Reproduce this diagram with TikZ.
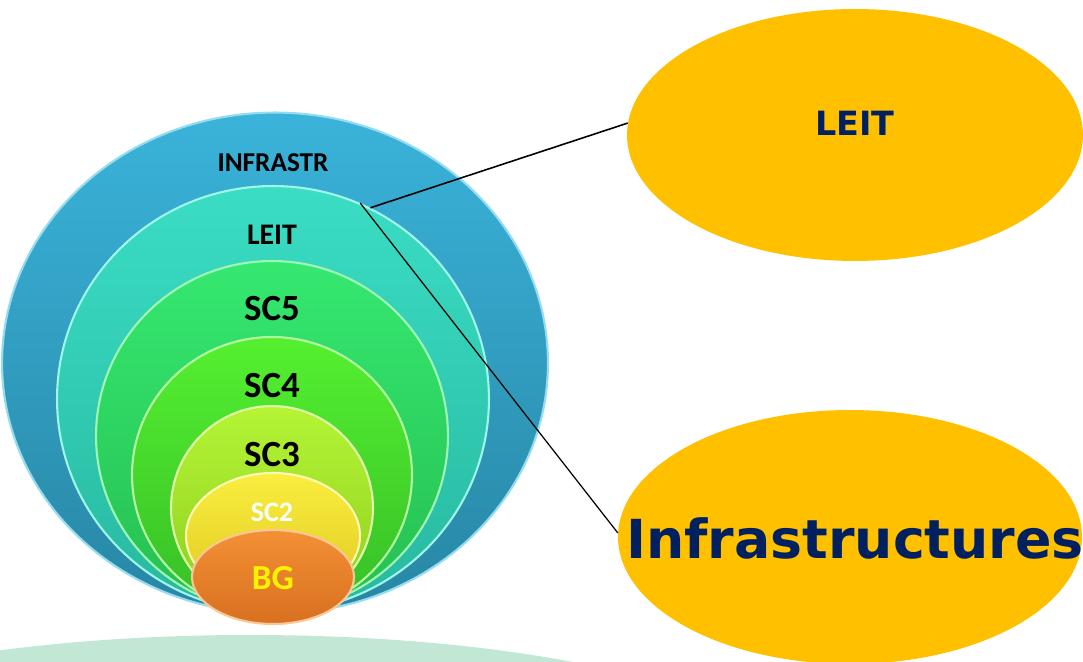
\documentclass[tikz,border=0pt]{standalone}
\usepackage{fontspec}
\setmainfont{Carlito}
\newfontfamily\verd{DejaVu Sans}
\usetikzlibrary{shapes.geometric}

\definecolor{navy}{HTML}{002060}
\definecolor{gold}{HTML}{FFC000}
\definecolor{mint}{HTML}{C2E8D5}

\begin{document}
\begin{tikzpicture}
[x=0.02cm,y=-0.02cm,
 ring/.style={ellipse,inner sep=0pt,line width=1.2pt},
 lab/.style={font=\bfseries,text=black},
 bigoval/.style={ellipse,fill=gold,inner sep=0pt,minimum width=9.12cm,minimum height=5.04cm}]
\clip (0,0) rectangle (1083,662);
\fill[mint] (250,760) ellipse [x radius=520,y radius=125];
% nested rings
\node[ring,draw={rgb,255:red,150;green,220;blue,240},top color={rgb,255:red,58;green,179;blue,218},
      bottom color={rgb,255:red,40;green,134;blue,164},
      minimum width=10.92cm,minimum height=10.02cm] (infr) at (275,363) {};
\node[ring,draw={rgb,255:red,160;green,245;blue,230},top color={rgb,255:red,58;green,221;blue,196},
      bottom color={rgb,255:red,40;green,184;blue,160},
      minimum width=8.64cm,minimum height=8.52cm] (leit) at (273,399) {};
\node[ring,draw={rgb,255:red,160;green,245;blue,180},top color={rgb,255:red,53;green,232;blue,112},
      bottom color={rgb,255:red,38;green,190;blue,80},
      minimum width=7.04cm,minimum height=7.0cm] (scv) at (272,436) {};
\node[ring,draw={rgb,255:red,180;green,250;blue,160},top color={rgb,255:red,85;green,240;blue,48},
      bottom color={rgb,255:red,54;green,190;blue,40},
      minimum width=5.6cm,minimum height=5.52cm] (sciv) at (272,475) {};
\node[ring,draw={rgb,255:red,225;green,250;blue,170},top color={rgb,255:red,181;green,245;blue,53},
      bottom color={rgb,255:red,140;green,205;blue,32},
      minimum width=4.04cm,minimum height=4.08cm] (sciii) at (272,508) {};
\node[ring,draw={rgb,255:red,250;green,248;blue,180},top color={rgb,255:red,250;green,238;blue,64},
      bottom color={rgb,255:red,224;green,200;blue,32},
      minimum width=3.48cm,minimum height=2.52cm] (scii) at (273,536) {};
\node[ring,draw={rgb,255:red,250;green,200;blue,150},top color={rgb,255:red,243;green,144;blue,53},
      bottom color={rgb,255:red,216;green,112;blue,32},
      minimum width=3.24cm,minimum height=1.88cm] (bg) at (273,577) {};
% ring labels
\node[lab,font=\bfseries\fontsize{15.5}{15.5}\selectfont] (tinfr) at (273,163) {INFRASTR};
\node[lab,font=\bfseries\fontsize{17}{17}\selectfont] (tleit) at (272,235) {LEIT};
\node[lab,font=\bfseries\fontsize{21}{21}\selectfont] (tscv) at (272,309) {SC5};
\node[lab,font=\bfseries\fontsize{21}{21}\selectfont] (tsciv) at (272,386) {SC4};
\node[lab,font=\bfseries\fontsize{21}{21}\selectfont] (tsciii) at (272,455) {SC3};
\node[lab,font=\bfseries\fontsize{16}{16}\selectfont,text=white] (tscii) at (272,512) {SC2};
\node[lab,font=\bfseries\fontsize{20}{20}\selectfont,text=yellow] (tbg) at (273,578) {BG};
% callouts
\node[bigoval] (leitR) at (855,135) {};
\node[bigoval,minimum width=9.28cm,minimum height=5.08cm] (infraR) at (850,537) {};
\node[font=\verd\bfseries\fontsize{19}{19}\selectfont,text=navy] (tleitR) at (855,123) {LEIT};
\node[font=\verd\bfseries\fontsize{30.6}{30.6}\selectfont,text=navy] (tinfraR) at (855,538) {Infrastructures};
\draw[line width=0.9pt] (leit.63) -- (leitR.177);
\draw[line width=0.7pt] (leit.66) -- (infraR.179);
\end{tikzpicture}
\end{document}
